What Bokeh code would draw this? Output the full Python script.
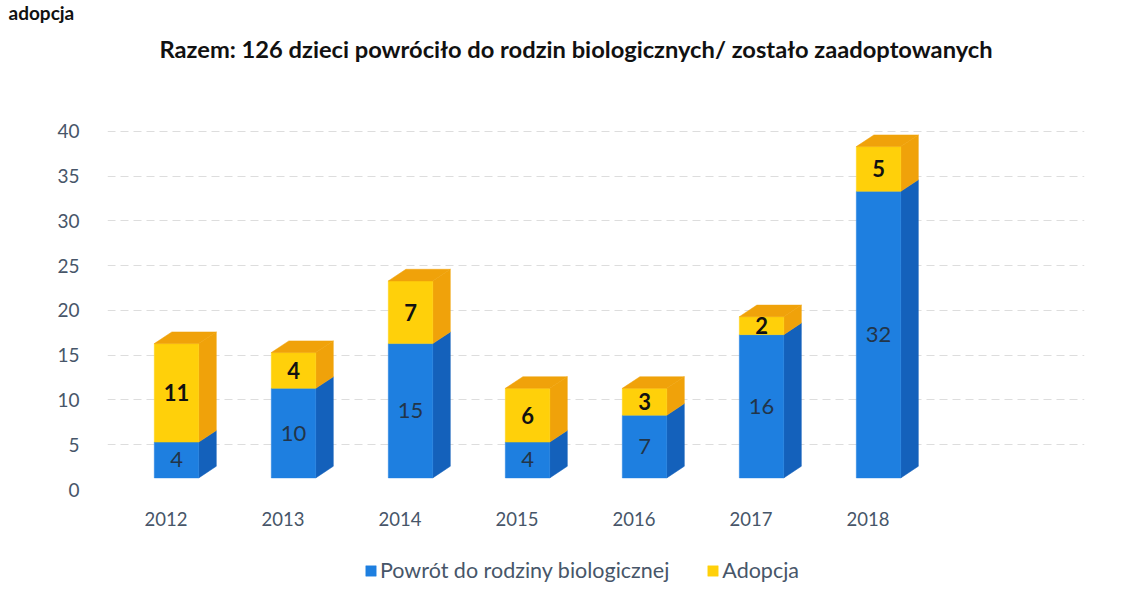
import numpy as np
from bokeh.plotting import figure
from bokeh.models import Range1d, FixedTicker, Legend, LegendItem, Title
from bokeh.core.properties import value
from bokeh.embed import file_html
from bokeh.resources import INLINE

# ---- data ----
years = ["2012", "2013", "2014", "2015", "2016", "2017", "2018"]
powrot = [4, 10, 15, 4, 7, 16, 32]
adopcja = [11, 4, 7, 6, 3, 2, 5]
title_text = "Razem: 126 dzieci powróciło do rodzin biologicznych/ zostało zaadoptowanych"
heading_text = "adopcja"
series_names = ["Powrót do rodziny biologicznej", "Adopcja"]
y_ticks = [0, 5, 10, 15, 20, 25, 30, 35, 40]

# ---- style ----
FONT = "Lato"
BLUE = "#1e7fe0"
BLUE_SIDE = "#1461bb"
YEL = "#ffd00a"
YEL_SIDE = "#f0a20a"
TXT = "#475669"

W, H = 1125, 592
p = figure(width=W, height=H, output_backend="svg", toolbar_location=None,
           x_range=Range1d(-0.5, 7.85), y_range=Range1d(-11.5, 46.8),
           min_border_left=107, min_border_right=41, min_border_top=70,
           min_border_bottom=0, title=None)
p.outline_line_color = None
p.background_fill_color = "white"
p.xaxis.visible = False

# geometry (in data units)
half = 0.19        # half front width
shift = 0.09       # front face centre offset from category
lift = 1.3         # front face vertical lift
dx, dy = 0.15, 1.3 # 3D depth
year_label_y = -3.25

idx = np.arange(len(years))
pw = np.array(powrot, dtype=float)
ad = np.array(adopcja, dtype=float)
x0 = idx + shift - half
x1 = idx + shift + half

segs = [(np.zeros_like(pw), pw, BLUE, BLUE_SIDE), (pw, pw + ad, YEL, YEL_SIDE)]
renderers = []
for k, (b0, b1, cf, cs) in enumerate(segs):
    xs = [[a, a + dx, a + dx, a] for a in x1]
    ys = [[lo + lift, lo + lift + dy, hi + lift + dy, hi + lift] for lo, hi in zip(b0, b1)]
    p.patches(xs, ys, fill_color=cs, line_color=cs, line_width=0.5)
    r = p.quad(left=x0, right=x1, bottom=b0 + lift, top=b1 + lift,
               fill_color=cf, line_color=cf, line_width=0.5)
    renderers.append(r)

tops = pw + ad
xs = [[a, b, b + dx, a + dx] for a, b in zip(x0, x1)]
ys = [[t + lift, t + lift, t + lift + dy, t + lift + dy] for t in tops]
p.patches(xs, ys, fill_color=YEL_SIDE, line_color=YEL_SIDE, line_width=0.5)

cx = idx + shift
p.text(x=cx, y=pw / 2 + lift, text=[str(v) for v in powrot], text_align="center",
       text_baseline="middle", text_font=value(FONT), text_font_size="22px",
       text_color="#223549")
p.text(x=cx, y=pw + ad / 2 + lift, text=[str(v) for v in adopcja], text_align="center",
       text_baseline="middle", text_font=value(FONT), text_font_size="22px",
       text_font_style="bold", text_color="#111111")

# category labels (x axis)
p.text(x=idx, y=[year_label_y] * len(years), text=years, text_align="center",
       text_baseline="middle", text_font=value(FONT), text_font_size="18.5px",
       text_color=TXT)

# y axis
p.yaxis.ticker = FixedTicker(ticks=y_ticks)
p.yaxis.axis_line_color = None
p.yaxis.major_tick_line_color = None
p.yaxis.minor_tick_line_color = None
p.yaxis.major_label_standoff = 22
p.yaxis.major_label_text_font = FONT
p.yaxis.major_label_text_font_size = "19px"
p.yaxis.major_label_text_color = TXT

p.xgrid.grid_line_color = None
p.ygrid.ticker = FixedTicker(ticks=y_ticks[1:])
p.ygrid.grid_line_color = "#d4d4d4"
p.ygrid.grid_line_dash = "8 5"
p.ygrid.grid_line_alpha = 0.8

# titles
p.add_layout(Title(text=title_text, align="left", vertical_align="middle",
                   text_font=FONT, text_font_size="23.7px",
                   text_font_style="bold", text_color="#111111", offset=52,
                   standoff=13.7), "above")
p.add_layout(Title(text=heading_text, align="left", vertical_align="top",
                   text_font=FONT, text_font_size="19px",
                   text_font_style="bold", text_color="#111111", offset=-99,
                   standoff=1), "above")

# legend (inside the extended frame, below category labels)
legend = Legend(items=[LegendItem(label=series_names[0], renderers=[renderers[0]]),
                       LegendItem(label=series_names[1], renderers=[renderers[1]])],
                orientation="horizontal", location=(257, 9), padding=5, margin=0,
                label_text_font=FONT, label_text_font_size="21.5px",
                label_text_color=TXT, glyph_width=13, glyph_height=13,
                spacing=37, label_standoff=3, border_line_color=None,
                background_fill_alpha=0)
p.add_layout(legend, "center")

open("out.html", "w").write(file_html(p, INLINE))
